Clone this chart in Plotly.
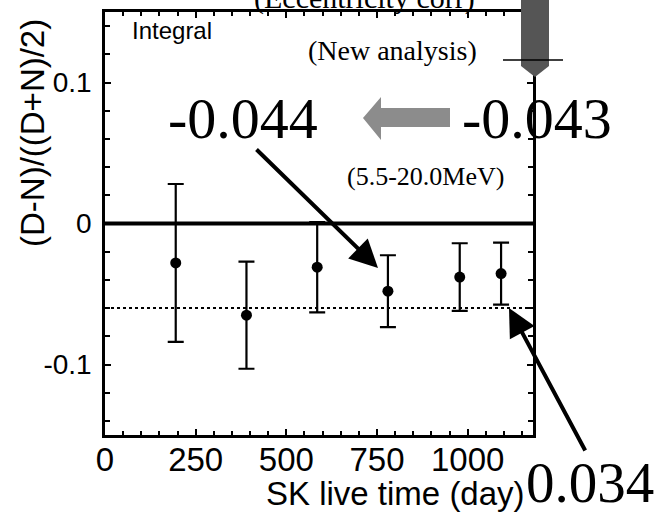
import plotly.graph_objects as go

# ---- data ----
live_days = [195, 390, 585, 780, 978, 1092]
asym = [-0.028, -0.065, -0.031, -0.048, -0.038, -0.0355]
asym_err = [0.056, 0.038, 0.032, 0.0255, 0.024, 0.022]
zero_level = 0.0
mean_level = -0.060
x_range = [0, 1180]
y_range = [-0.15, 0.15]
x_tickvals = [0, 250, 500, 750, 1000]
x_ticktext = ["0", "250", "500", "750", "1000"]
y_tickvals = [-0.1, 0.0, 0.1]
y_ticktext = ["-0.1", "0", "0.1"]

# ---- layout geometry (screen pixels) ----
WIDTH, HEIGHT = 672, 518
L, R, T, B = 105, 533, 12, 435
PW, PH = R - L, B - T


def paper(px, py):
    return (px - L) / PW, (B - py) / PH


def path_from(points):
    parts = []
    for i, (px, py) in enumerate(points):
        x, y = paper(px, py)
        parts.append(("M" if i == 0 else "L") + f"{x:.5f},{y:.5f}")
    return " ".join(parts) + " Z"


fig = go.Figure()
fig.add_trace(go.Scatter(
    x=live_days, y=asym, mode="markers",
    marker=dict(color="black", size=11, symbol="circle"),
    error_y=dict(type="data", array=asym_err, visible=True,
                 color="black", thickness=2.2, width=8),
    showlegend=False, cliponaxis=False,
))

SANS = "Liberation Sans, Arial, sans-serif"
SERIF = "Liberation Serif, Times New Roman, serif"

axis_common = dict(
    showline=True, linecolor="black", linewidth=2.5, mirror="ticks",
    ticks="inside", ticklen=6, tickwidth=2, tickcolor="black",
    showgrid=False, zeroline=False, automargin=False,
)

fig.update_xaxes(range=x_range, tickvals=x_tickvals, ticktext=x_ticktext,
                 tickfont=dict(family=SANS, size=33, color="black"),
                 minor=dict(dtick=50, ticks="inside", ticklen=4, tickwidth=1.5,
                            tickcolor="black", showgrid=False),
                 ticklabelstandoff=-6, **axis_common)
fig.update_yaxes(range=y_range, tickvals=y_tickvals, ticktext=y_ticktext,
                 tickfont=dict(family=SANS, size=28, color="black"),
                 minor=dict(dtick=0.02, ticks="inside", ticklen=5, tickwidth=1.5,
                            tickcolor="black", showgrid=False),
                 ticklabelstandoff=5, **axis_common)

shapes = [
    dict(type="line", xref="paper", yref="y", x0=0, x1=1, y0=zero_level, y1=zero_level,
         line=dict(color="black", width=4)),
    dict(type="line", xref="paper", yref="y", x0=0, x1=1, y0=mean_level, y1=mean_level,
         line=dict(color="black", width=2, dash="dot")),
    # gray left-pointing arrow
    dict(type="path", xref="paper", yref="paper",
         path=path_from([(363, 118), (381, 97), (381, 108), (450, 108),
                         (450, 127), (381, 127), (381, 140)]),
         fillcolor="#8c8c8c", line=dict(width=0)),
    # gray downward arrow at the top right
    dict(type="path", xref="paper", yref="paper",
         path=path_from([(521, -5), (549, -5), (549, 66), (535, 77), (521, 66)]),
         fillcolor="#555555", line=dict(width=0)),
    dict(type="line", xref="paper", yref="paper",
         x0=paper(503, 60)[0], x1=paper(563, 60)[0], y0=paper(503, 60)[1], y1=paper(563, 60)[1],
         line=dict(color="black", width=1.5)),
]


def text_ann(s, px, py, family, size, xanchor="center", angle=0):
    x, y = paper(px, py)
    return dict(text=s, x=x, y=y, xref="paper", yref="paper", showarrow=False,
                xanchor=xanchor, yanchor="middle", textangle=angle,
                font=dict(family=family, size=size, color="black"))


def arrow_ann(tip, tail):
    x, y = paper(*tip)
    return dict(text="", x=x, y=y, xref="paper", yref="paper", showarrow=True,
                ax=tail[0] - tip[0], ay=tail[1] - tip[1],
                arrowhead=2, arrowsize=1.4, arrowwidth=4, arrowcolor="black",
                standoff=0, startstandoff=0)


annotations = [
    text_ann("(Eccentricity corr)", 364, -2, SERIF, 30),
    text_ann("Integral", 130, 31, SANS, 24, xanchor="left"),
    text_ann("(New analysis)", 392, 50, SERIF, 28),
    text_ann("-0.044", 243, 118, SERIF, 58),
    text_ann("-0.043", 537, 118, SERIF, 58),
    text_ann("(5.5-20.0MeV)", 425, 176, SERIF, 26),
    text_ann("0.034", 590, 482, SERIF, 57),
    text_ann("SK live time (day)", 395, 493, SANS, 33),
    text_ann("(D-N)/((D+N)/2)", 32, 133, SANS, 33, angle=-90),
    arrow_ann((378, 268), (255, 148)),
    arrow_ann((509, 308), (586, 452)),
]

fig.update_layout(
    width=WIDTH, height=HEIGHT,
    margin=dict(l=L, r=WIDTH - R, t=T, b=HEIGHT - B, pad=0),
    paper_bgcolor="white", plot_bgcolor="white",
    shapes=shapes, annotations=annotations,
    showlegend=False,
)

fig.write_html("out.html",
               config={"displayModeBar": False},
               post_script="document.body.style.margin='0';document.body.style.overflow='hidden';")
